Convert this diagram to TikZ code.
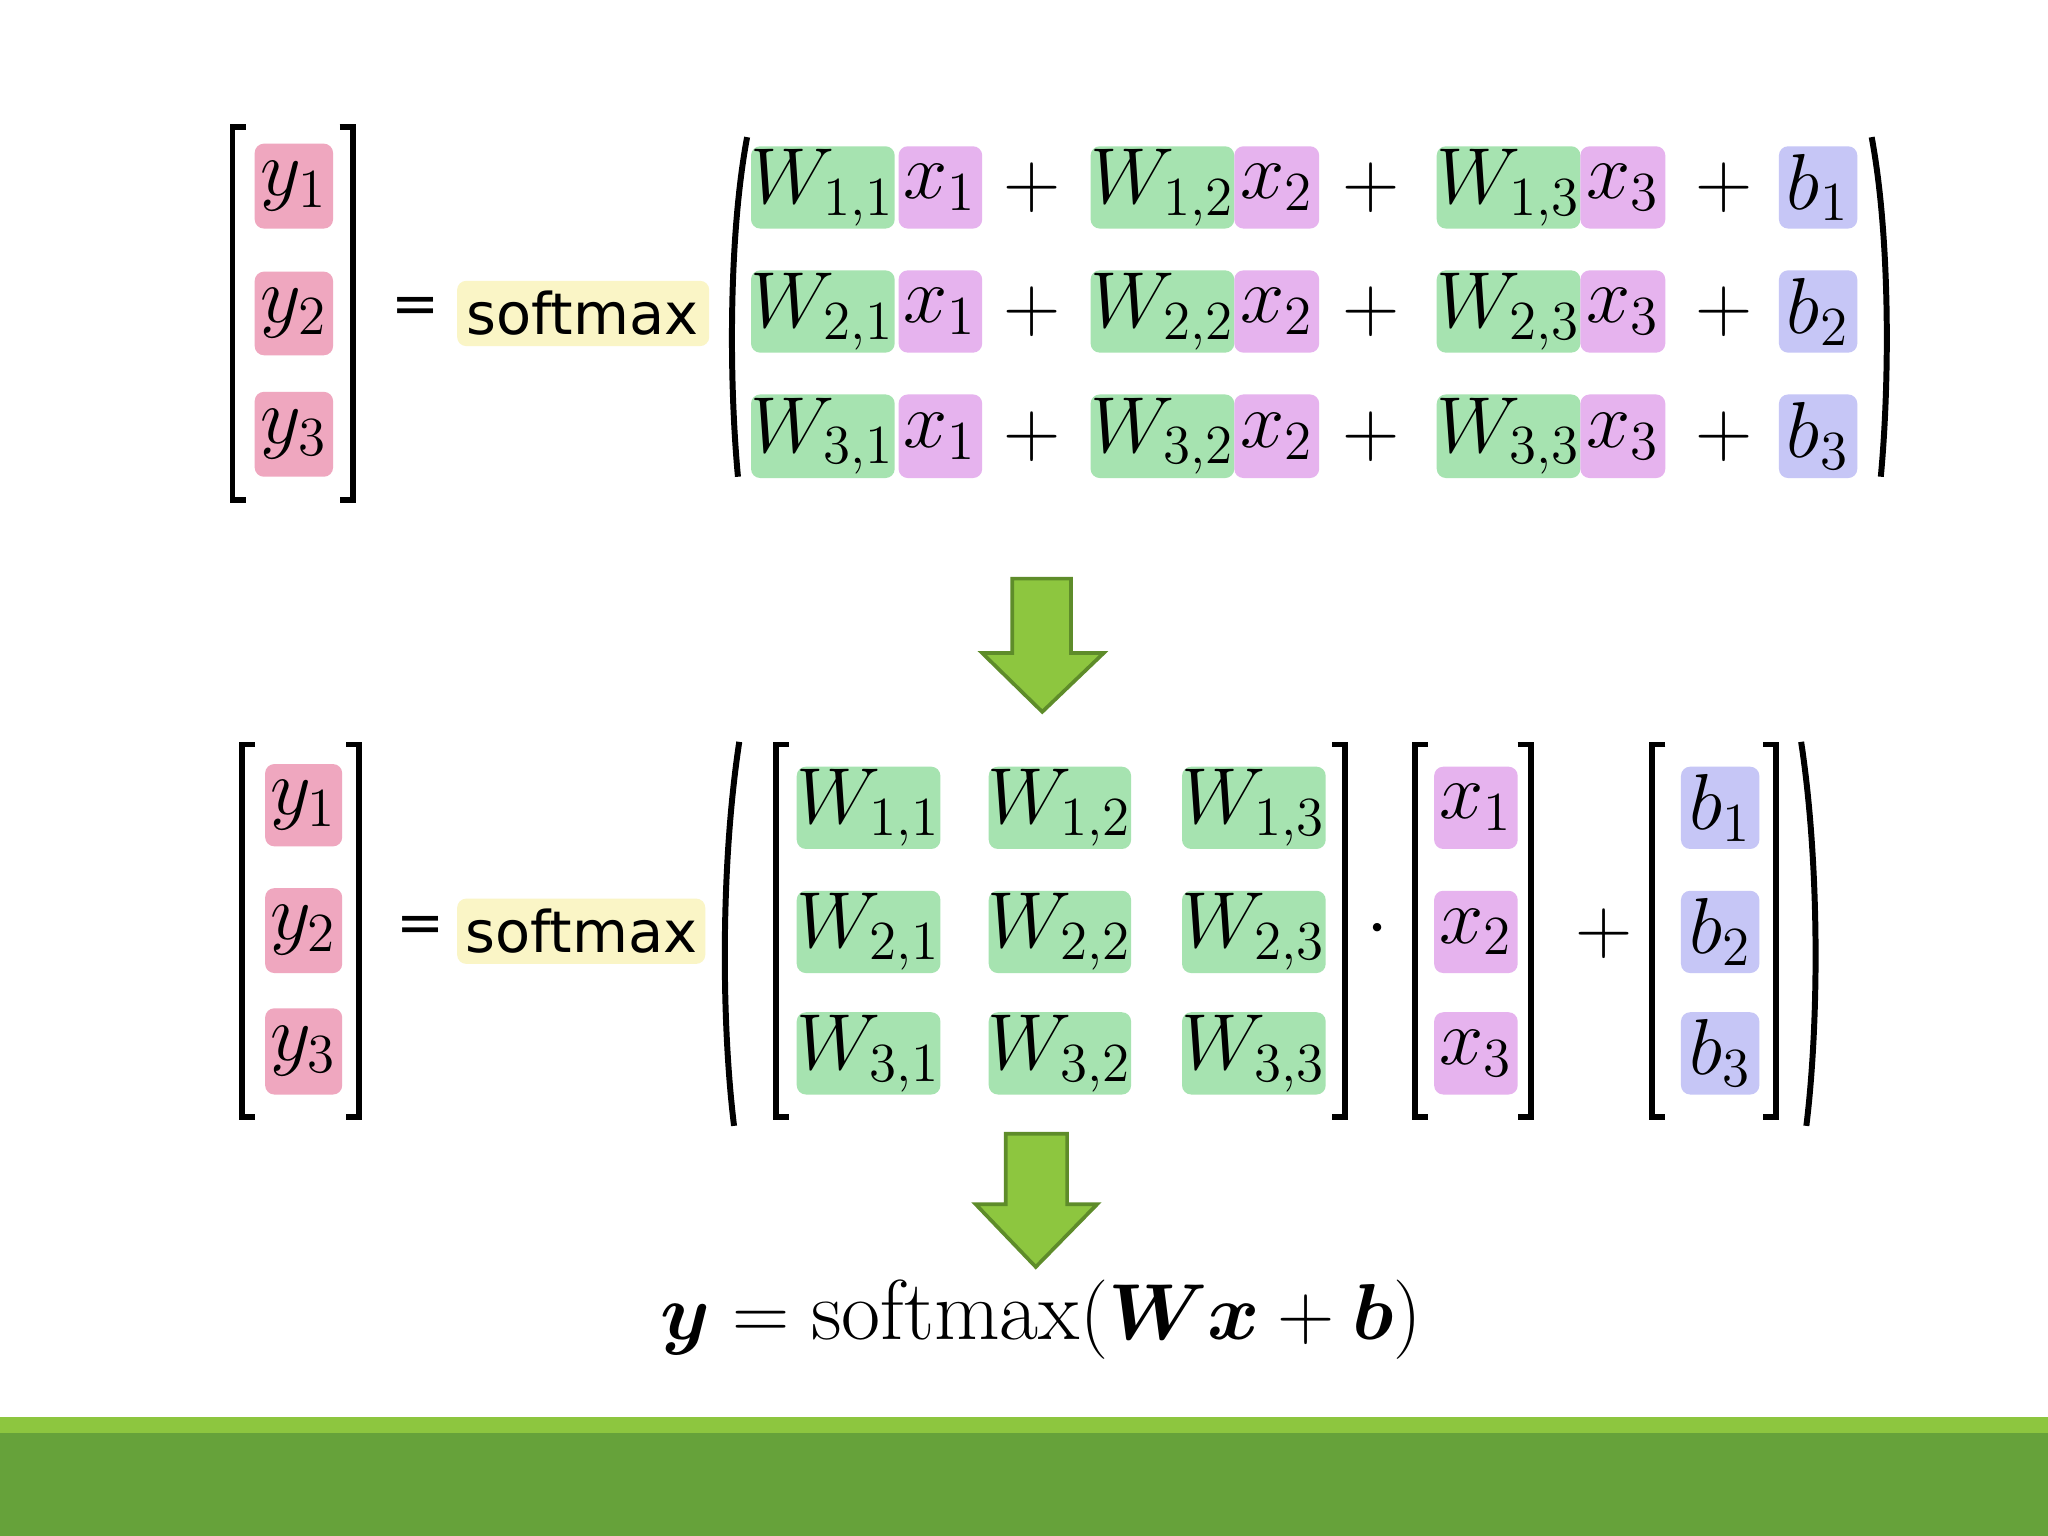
\documentclass[tikz,border=0pt]{standalone}
\usepackage{amsmath,bm}
\usepackage{fontspec}
\newfontfamily\dejavu{DejaVu Sans}
\definecolor{cg}{HTML}{A6E3B0}
\definecolor{cp}{HTML}{EFA7BF}
\definecolor{cv}{HTML}{E6B3EE}
\definecolor{cb}{HTML}{C6C6F6}
\definecolor{cy}{HTML}{FAF5C6}
\definecolor{ag}{HTML}{8DC63F}
\definecolor{agd}{HTML}{5E8C2A}
\definecolor{band}{HTML}{66A23A}
\tikzset{mt/.style={inner sep=0pt,font=\fontsize{17}{20}\selectfont},
 br/.style={line width=1.3pt},
 sf/.style={inner sep=0pt,font=\dejavu\fontsize{12.5}{15}\selectfont},
 arr/.style={fill=ag,draw=agd,line width=0.8pt}}
\newcommand\cell[6]{\fill[#5,rounded corners=2pt] (#1,#2) rectangle (#3,#4);
 \node[mt] at ({(#1+#3)/2},{(#2+#4)/2}) {$#6$};}
\newcommand\lbr[3]{\draw[br] (#1+10,#2)--(#1,#2)--(#1,#3)--(#1+10,#3);}
\newcommand\rbr[3]{\draw[br] (#1-10,#2)--(#1,#2)--(#1,#3)--(#1-10,#3);}
\begin{document}
\begin{tikzpicture}[x=0.01cm,y=-0.01cm]
\useasboundingbox (0,0) rectangle (1568,1176);
\fill[white] (0,0) rectangle (1568,1176);
% top
\lbr{178}{97}{383}\rbr{270}{97}{383}
\cell{195}{110}{255}{175}{cp}{y_1}
\cell{195}{208}{255}{272}{cp}{y_2}
\cell{195}{300}{255}{365}{cp}{y_3}
\node[sf] (eq1) at (318,238) {=};
\fill[cy,rounded corners=2pt] (350,215) rectangle (543,265);
\node[sf] (sm1) at (446,240) {softmax};
\draw[br] (572,105) .. controls (558,180) and (558,290) .. (565,365);
\draw[br] (1433,105) .. controls (1447,180) and (1447,290) .. (1440,365);
\foreach \r/\ya/\yb/\bb in {1/112/175/1,2/207/270/2,3/302/366/3}{
 \cell{575}{\ya}{685}{\yb}{cg}{W_{\r,1}}
 \cell{688}{\ya}{752}{\yb}{cv}{x_1}
 \node[mt] at (790,{(\ya+\yb)/2}) {$+$};
 \cell{835}{\ya}{945}{\yb}{cg}{W_{\r,2}}
 \cell{945}{\ya}{1010}{\yb}{cv}{x_2}
 \node[mt] at (1050,{(\ya+\yb)/2}) {$+$};
 \cell{1100}{\ya}{1210}{\yb}{cg}{W_{\r,3}}
 \cell{1210}{\ya}{1275}{\yb}{cv}{x_3}
 \node[mt] at (1320,{(\ya+\yb)/2}) {$+$};
 \cell{1362}{\ya}{1422}{\yb}{cb}{b_{\bb}}
}
% arrow 1
\draw[arr] (775,443)--(820,443)--(820,500)--(845,500)--(798,545)--(752,500)--(775,500)--cycle;
% bottom
\lbr{185}{570}{855}\rbr{275}{570}{855}
\cell{203}{585}{262}{648}{cp}{y_1}
\cell{203}{680}{262}{745}{cp}{y_2}
\cell{203}{772}{262}{838}{cp}{y_3}
\node[sf] (eq2) at (322,712) {=};
\fill[cy,rounded corners=2pt] (350,688) rectangle (540,738);
\node[sf] (sm2) at (445,713) {softmax};
\draw[br] (566,568) .. controls (552,660) and (552,780) .. (562,862);
\draw[br] (1379,568) .. controls (1393,660) and (1393,780) .. (1383,862);
\lbr{594}{570}{855}\rbr{1030}{570}{855}
\foreach \r/\ya/\yb in {1/587/650,2/682/745,3/775/838}{
 \cell{610}{\ya}{720}{\yb}{cg}{W_{\r,1}}
 \cell{757}{\ya}{866}{\yb}{cg}{W_{\r,2}}
 \cell{905}{\ya}{1015}{\yb}{cg}{W_{\r,3}}
 \cell{1098}{\ya}{1162}{\yb}{cv}{x_{\r}}
 \cell{1287}{\ya}{1347}{\yb}{cb}{b_{\r}}
}
\node[mt] at (1055,712) {$\cdot$};
\lbr{1083}{570}{855}\rbr{1172}{570}{855}
\node[mt] at (1228,715) {$+$};
\lbr{1265}{570}{855}\rbr{1360}{570}{855}
% arrow 2
\draw[arr] (770,868)--(817,868)--(817,922)--(840,922)--(793,970)--(747,922)--(770,922)--cycle;
\node[inner sep=0pt,font=\fontsize{18.5}{22}\selectfont] (f) at (797,1010) {$\bm{y}=\mathrm{softmax}(\bm{W}\bm{x}+\bm{b})$};
% band
\fill[ag] (0,1085) rectangle (1568,1097);
\fill[band] (0,1097) rectangle (1568,1176);
\end{tikzpicture}
\end{document}
